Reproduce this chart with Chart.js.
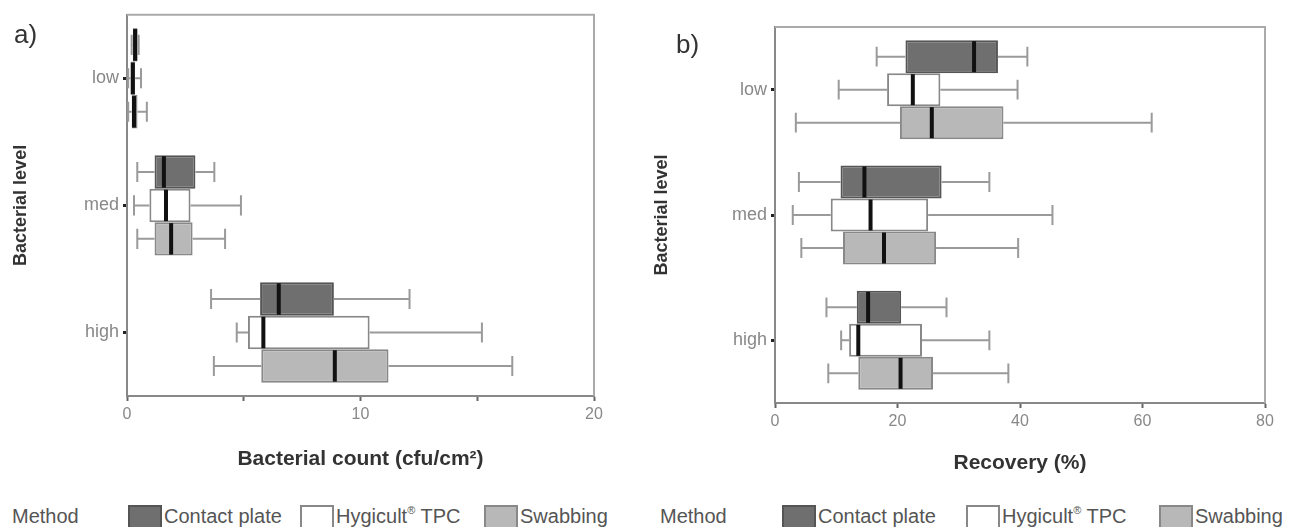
<!DOCTYPE html>
<html>
<head>
<meta charset="utf-8">
<script src="https://cdn.jsdelivr.net/npm/chart.js@4"></script>
<style>
  body { margin: 0; width: 1290px; height: 527px; overflow: hidden; background: #fff; font-family: "Liberation Sans", Arial, sans-serif; }
  .panel { position: absolute; top: 0; width: 645px; height: 480px; }
  .tag { position: absolute; font-size: 26px; color: #333; line-height: 1; }
  .legend { position: absolute; top: 504px; height: 24px; font-size: 20px; color: #555; }
  .legend span { position: absolute; white-space: nowrap; line-height: 24px; }
  .legend i { position: absolute; top: 1px; width: 30px; height: 20px; border: 2px solid #777; }
  sup { font-size: 11px; line-height: 0; position: relative; top: -9px; vertical-align: baseline; }
</style>
</head>
<body>
<div class="panel" style="left:0"><canvas id="countChart" width="645" height="480"></canvas></div>
<div class="panel" style="left:645px"><canvas id="recChart" width="645" height="480"></canvas></div>
<div class="tag" style="left:14px; top:21px">a)</div>
<div class="tag" style="left:676px; top:31px">b)</div>
<div class="legend" id="legendA" style="left:0"></div>
<div class="legend" id="legendB" style="left:648px"></div>
<script>
const levels = ['low', 'med', 'high'];
const methods = ['Contact plate', 'Hygicult® TPC', 'Swabbing'];

// five-number summaries per level: [min, q1, median, q3, max]
const countContact = [[0.2, 0.25, 0.35, 0.45, 0.5], [0.44, 1.18, 1.58, 2.93, 3.74], [3.6, 5.7, 6.5, 8.86, 12.1]];
const countHygicult = [[0.05, 0.15, 0.25, 0.35, 0.6], [0.3, 0.96, 1.67, 2.72, 4.88], [4.7, 5.18, 5.84, 10.39, 15.2]];
const countSwabbing = [[0.05, 0.2, 0.3, 0.45, 0.85], [0.44, 1.18, 1.89, 2.81, 4.2], [3.72, 5.75, 8.9, 11.2, 16.5]];

const recContact = [[16.6, 21.3, 32.5, 36.4, 41.2], [3.9, 10.7, 14.6, 27.2, 35.0], [8.4, 13.35, 15.2, 20.6, 28.0]];
const recHygicult = [[10.4, 18.3, 22.5, 27.0, 39.6], [2.9, 9.1, 15.6, 25.0, 45.3], [10.8, 12.1, 13.6, 24.0, 35.0]];
const recSwabbing = [[3.4, 20.4, 25.6, 37.3, 61.5], [4.3, 11.1, 17.8, 26.3, 39.7], [8.7, 13.6, 20.5, 25.8, 38.1]];

const countTicks = [0, 10, 20];
const recTicks = [0, 20, 40, 60, 80];

const fills = ['#6f6f6f', '#ffffff', '#b8b8b8'];
const borders = ['#555555', '#888888', '#888888'];

const boxPlot = {
  id: 'boxPlot',
  afterDatasetsDraw(chart) {
    const ctx = chart.ctx, x = chart.scales.x;
    ctx.save();
    chart.data.datasets.forEach((ds, d) => {
      chart.getDatasetMeta(d).data.forEach((bar, i) => {
        const s = ds.stats[i];
        const h = bar.height, y = bar.y, cap = h * 0.3;
        const p = s.map(v => x.getPixelForValue(v));
        ctx.strokeStyle = '#9a9a9a';
        ctx.lineWidth = 2;
        ctx.beginPath();
        ctx.moveTo(p[0], y); ctx.lineTo(p[1], y);
        ctx.moveTo(p[3], y); ctx.lineTo(p[4], y);
        ctx.moveTo(p[0], y - cap); ctx.lineTo(p[0], y + cap);
        ctx.moveTo(p[4], y - cap); ctx.lineTo(p[4], y + cap);
        ctx.stroke();
        ctx.strokeStyle = '#111';
        ctx.lineWidth = 4;
        ctx.beginPath();
        ctx.moveTo(p[2], y - h / 2 + 1); ctx.lineTo(p[2], y + h / 2 - 1);
        ctx.stroke();
      });
    });
    ctx.restore();
  }
};

const frame = {
  id: 'frame',
  beforeDatasetsDraw(chart) {
    const {ctx, chartArea: a} = chart;
    ctx.save();
    ctx.strokeStyle = '#aaaaaa';
    ctx.lineWidth = 2;
    ctx.beginPath();
    ctx.moveTo(a.left, a.top); ctx.lineTo(a.right, a.top); ctx.lineTo(a.right, a.bottom);
    ctx.stroke();
    ctx.restore();
  }
};

function makeChart(id, stats, maxX, step, labeled, xTitle, lay) {
  new Chart(document.getElementById(id), {
    type: 'bar',
    data: {
      labels: levels,
      datasets: methods.map((m, d) => ({
        label: m,
        stats: stats[d],
        data: stats[d].map(s => [s[1], s[3]]),
        backgroundColor: fills[d],
        borderColor: borders[d],
        borderWidth: 2,
        borderSkipped: false,
        barPercentage: 1,
        categoryPercentage: 0.79
      }))
    },
    options: {
      indexAxis: 'y',
      responsive: false,
      animation: false,
      layout: { padding: { top: lay.top, right: lay.right, left: 0, bottom: 0 } },
      plugins: { legend: { display: false }, tooltip: { enabled: false } },
      scales: {
        x: {
          min: 0, max: maxX,
          ticks: { stepSize: step, padding: 4, color: '#888', font: { size: 16 },
                   callback: v => labeled.includes(v) ? String(v) : '' },
          grid: { drawOnChartArea: false, tickLength: 5, tickColor: '#666', tickWidth: 2 },
          border: { color: '#888', width: 2 },
          title: { display: true, text: xTitle, color: '#333', font: { size: 21, weight: 'bold' },
                   padding: { top: 0, bottom: lay.xTitlePad } },
          afterFit: s => { s.height = lay.xHeight; }
        },
        y: {
          ticks: { padding: 4, color: '#888', font: { size: 18 } },
          grid: { drawOnChartArea: false, offset: false, tickLength: 4, tickColor: '#222', tickWidth: 3 },
          border: { color: '#888', width: 2 },
          title: { display: true, text: 'Bacterial level', color: '#333', font: { size: 18, weight: 'bold' },
                   padding: { top: lay.yTitlePad, bottom: 0 } },
          afterFit: s => { s.width = lay.yWidth; }
        }
      }
    },
    plugins: [frame, boxPlot]
  });
}

makeChart('countChart', [countContact, countHygicult, countSwabbing], 20, 5, countTicks,
  'Bacterial count (cfu/cm²)', { top: 13, right: 51, yWidth: 127, xHeight: 84, xTitlePad: 8, yTitlePad: 10 });
makeChart('recChart', [recContact, recHygicult, recSwabbing], 80, 20, recTicks,
  'Recovery (%)', { top: 27, right: 25, yWidth: 130, xHeight: 77, xTitlePad: 4, yTitlePad: 6 });

function legend(id, swatchX) {
  const el = document.getElementById(id);
  let html = '<span style="left:12px">Method</span>';
  methods.forEach((m, d) => {
    const label = m.replace('®', '<sup>®</sup>');
    html += `<i style="left:${swatchX[d]}px; background:${fills[d]}; border-color:${borders[d]}"></i>`;
    html += `<span style="left:${swatchX[d] + 36}px">${label}</span>`;
  });
  el.innerHTML = html;
}
legend('legendA', [128, 300, 484]);
legend('legendB', [134, 318, 511]);
</script>
</body>
</html>
